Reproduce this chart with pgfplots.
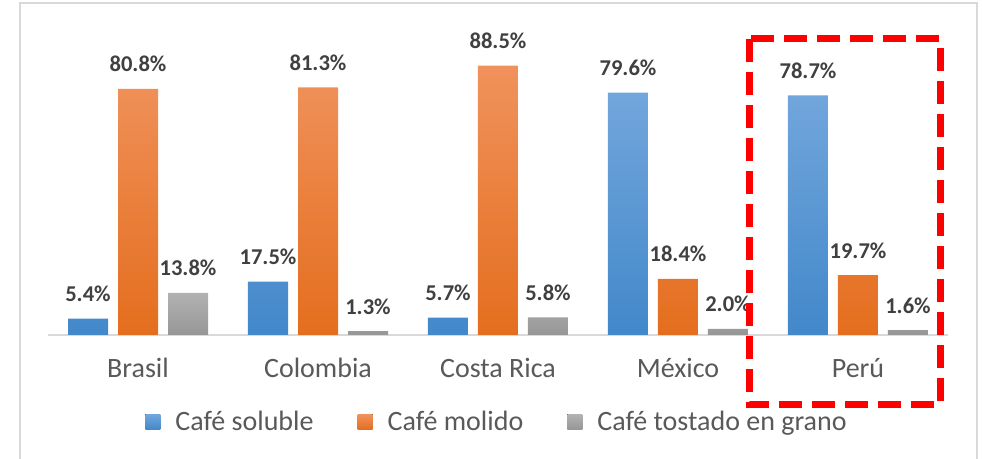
\documentclass[border=0pt]{standalone}
\usepackage{pgfplots}
\pgfplotsset{compat=1.18}
\usepackage{fontspec}
\setmainfont{Carlito}

\definecolor{bluetop}{RGB}{114,166,220}
\definecolor{bluebot}{RGB}{66,136,202}
\definecolor{orangetop}{RGB}{240,146,92}
\definecolor{orangebot}{RGB}{228,110,30}
\definecolor{graytop}{RGB}{178,178,178}
\definecolor{graybot}{RGB}{150,150,150}
\definecolor{ticktext}{RGB}{89,89,89}
\definecolor{labeltext}{RGB}{64,64,64}
\definecolor{framegray}{RGB}{217,217,217}

\begin{document}
\begin{tikzpicture}
% picture is 982x459 px, 1 px = 0.5pt
\useasboundingbox (0,0) rectangle (491pt,229.5pt);
\draw[framegray, line width=1pt] (10pt,-5pt) rectangle (488.5pt,228pt);
\begin{axis}[
    at={(24pt,62pt)}, anchor=south west,
    scale only axis,
    width=450pt, height=152.25pt,
    ymin=0, ymax=100,
    xmin=-0.5, xmax=4.5,
    ybar=5pt,
    bar width=20pt,
    axis x line*=bottom,
    axis y line=none,
    x axis line style={framegray, line width=1pt, -},
    xtick=data,
    xticklabels={Brasil, Colombia, Costa Rica, México, Perú},
    major tick length=0pt,
    /pgf/number format/assume math mode=true,
    xticklabel style={font=\fontsize{14}{16}\selectfont, text=ticktext, anchor=base, yshift=-21.5pt},
    nodes near coords={\pgfmathprintnumber[fixed, fixed zerofill, precision=1, assume math mode=true]{\pgfplotspointmeta}\%},
    every node near coord/.append style={font=\fontsize{11.3}{13}\selectfont\bfseries, text=labeltext, anchor=base, inner sep=0pt, yshift=8.5pt},
    legend columns=-1,
    legend style={at={(0.5,-0.2857)}, anchor=center, draw=none, fill=none,
      font=\fontsize{14}{16}\selectfont, text=ticktext,
      /tikz/every odd column/.append style={column sep=5.5pt},
      /tikz/every even column/.append style={column sep=20pt}},
    legend image code/.code={\fill[#1] (0pt,-3.75pt) rectangle (7.5pt,3.75pt);},
    ]
\addplot[draw=none, top color=bluetop, bottom color=bluebot] coordinates {(0,5.4) (1,17.5) (2,5.7) (3,79.6) (4,78.7)};
\addplot[draw=none, top color=orangetop, bottom color=orangebot] coordinates {(0,80.8) (1,81.3) (2,88.5) (3,18.4) (4,19.7)};
\addplot[draw=none, top color=graytop, bottom color=graybot] coordinates {(0,13.8) (1,1.3) (2,5.8) (3,2.0) (4,1.6)};
\legend{Café soluble, Café molido, Café tostado en grano}
\end{axis}
\draw[red, line width=3.5pt, dash pattern=on 11.5pt off 5pt] (374.5pt,210pt) rectangle (470pt,27pt);
\end{tikzpicture}
\end{document}
